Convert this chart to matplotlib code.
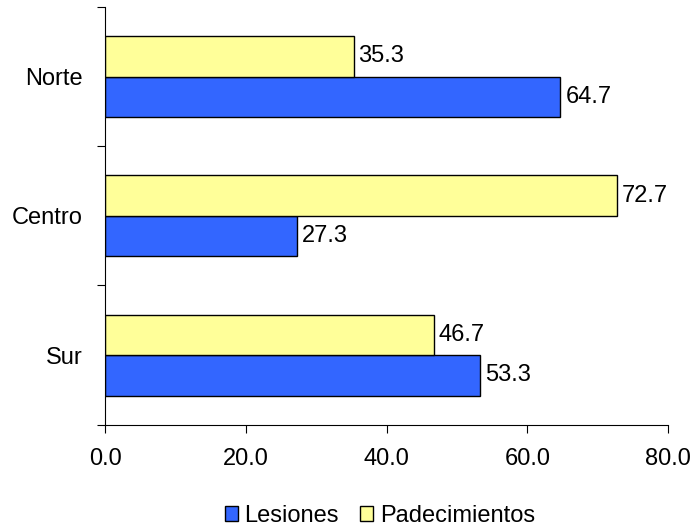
import numpy as np
import matplotlib.pyplot as plt

plt.rcParams['font.family'] = ['Liberation Sans', 'DejaVu Sans']

regiones = ['Sur', 'Centro', 'Norte']
lesiones = [53.3, 27.3, 64.7]
padecimientos = [46.7, 72.7, 35.3]
xticks = [0, 20, 40, 60, 80]

fig = plt.figure(figsize=(6.91, 5.29), dpi=100)
ax = fig.add_axes([0.152, 0.197, 0.815, 0.790])

y = np.arange(len(regiones))
h = 0.29
b1 = ax.barh(y - h / 2, lesiones, h, color='#3366FF', edgecolor='black', linewidth=1, label='Lesiones')
b2 = ax.barh(y + h / 2, padecimientos, h, color='#FFFF99', edgecolor='black', linewidth=1, label='Padecimientos')

# etiquetas de valor
for bars, vals in [(b1, lesiones), (b2, padecimientos)]:
    for bar, v in zip(bars, vals):
        ax.text(v + 0.7, bar.get_y() + bar.get_height() / 2, f'{v:.1f}',
                va='center', ha='left', fontsize=17)

ax.set_xlim(0, 80)
ax.set_ylim(-0.5, 2.5)
ax.set_xticks(xticks)
ax.set_xticklabels([f'{t:.1f}' for t in xticks])
ax.set_yticks(y)
ax.set_yticklabels(regiones)
ax.set_yticks([-0.5, 0.5, 1.5, 2.5], minor=True)
ax.tick_params(axis='y', which='major', length=0, pad=16, labelsize=17)
ax.tick_params(axis='y', which='minor', length=6, width=0.8)
ax.tick_params(axis='x', length=6, width=0.8, pad=11, labelsize=17)
for s in ['top', 'right']:
    ax.spines[s].set_visible(False)

fig.legend(handles=[b1, b2], loc='center', bbox_to_anchor=(0.55, 0.025), ncol=2,
           frameon=False, fontsize=17, handlelength=0.55, handleheight=0.55,
           handletextpad=0.3, columnspacing=0.9)

plt.savefig('out.png', dpi=100)
